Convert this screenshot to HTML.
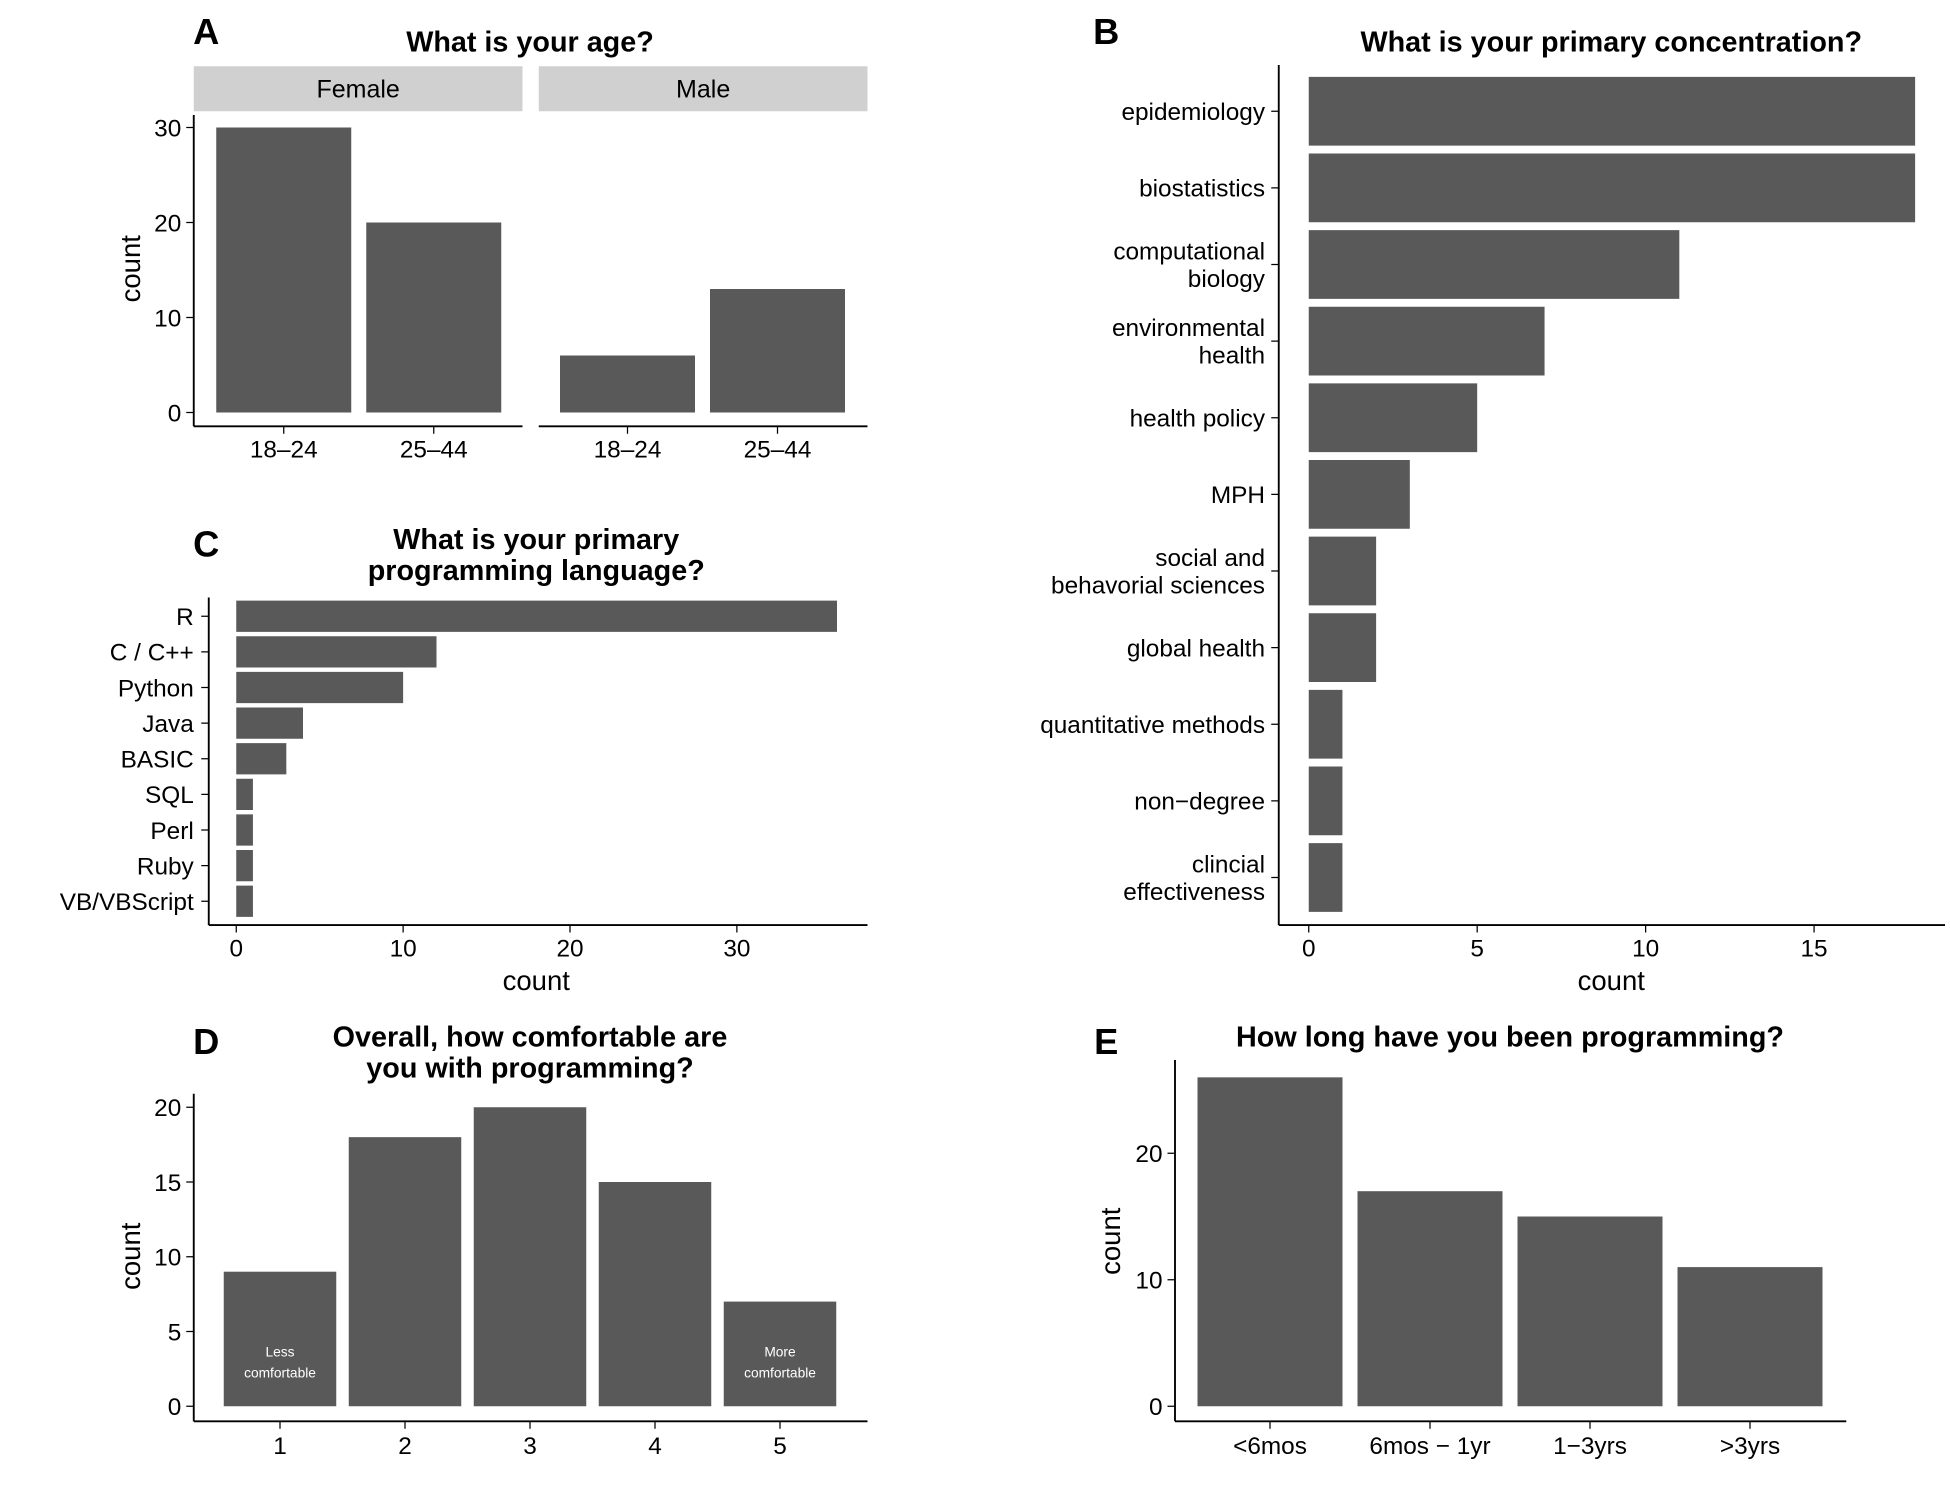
<!DOCTYPE html>
<html><head><meta charset="utf-8"><style>
html,body{margin:0;padding:0;background:#fff}
svg{display:block}
text{font-family:"Liberation Sans",sans-serif;fill:#000}
</style></head><body>
<svg id="fig" width="1950" height="1500" viewBox="0 0 1560 1200">
<g font-weight="bold">
<text x="165" y="35" font-size="29" text-anchor="middle">A</text>
<text x="885" y="35" font-size="29" text-anchor="middle">B</text>
<text x="165" y="445" font-size="29" text-anchor="middle">C</text>
<text x="165" y="843" font-size="29" text-anchor="middle">D</text>
<text x="885" y="843" font-size="29" text-anchor="middle">E</text>
<text x="424" y="41" font-size="23" text-anchor="middle">What is your age?</text>
<text x="1289" y="41" font-size="23" text-anchor="middle">What is your primary concentration?</text>
<text x="429" y="439" font-size="23" text-anchor="middle">What is your primary</text>
<text x="429" y="464" font-size="23" text-anchor="middle">programming language?</text>
<text x="424" y="837" font-size="23" text-anchor="middle">Overall, how comfortable are</text>
<text x="424" y="862" font-size="23" text-anchor="middle">you with programming?</text>
<text x="1208" y="837" font-size="23" text-anchor="middle">How long have you been programming?</text>
</g>
<g id="plots"></g>
</svg>
<script>
const ageCats = ["18\u201324","25\u201344"];
const ageFemale = [30,20];
const ageMale = [6,13];
const ageTicks = [0,10,20,30];

const langCats = ["R","C / C++","Python","Java","BASIC","SQL","Perl","Ruby","VB/VBScript"];
const langVals = [36,12,10,4,3,1,1,1,1];
const langTicks = [0,10,20,30];

const concCats = [["epidemiology"],["biostatistics"],["computational","biology"],["environmental","health"],["health policy"],["MPH"],["social and","behavorial sciences"],["global health"],["quantitative methods"],["non\u2212degree"],["clincial","effectiveness"]];
const concVals = [18,18,11,7,5,3,2,2,1,1,1];
const concTicks = [0,5,10,15];

const comfCats = ["1","2","3","4","5"];
const comfVals = [9,18,20,15,7];
const comfTicks = [0,5,10,15,20];

const longCats = ["<6mos","6mos \u2212 1yr","1\u22123yrs",">3yrs"];
const longVals = [26,17,15,11];
const longTicks = [0,10,20];

const NS="http://www.w3.org/2000/svg";
const root=document.getElementById('plots');
function mk(tag,attrs,parent,txt){const e=document.createElementNS(NS,tag);for(const k in attrs)e.setAttribute(k,attrs[k]);if(txt!==undefined)e.textContent=txt;(parent||root).appendChild(e);return e;}
const BAR="#595959";
const TF=19.5;

// Panel A
const yA=v=>330-v*7.6;
const panelsA=[{x0:155,x1:418,name:"female",lab:"Female",vals:ageFemale,cx:[227,347]},{x0:431,x1:694,name:"male",lab:"Male",vals:ageMale,cx:[502,622]}];
panelsA.forEach(p=>{
  let s=mk('rect',{x:p.x0,y:53,width:p.x1-p.x0,height:36,fill:"#d0d0d0"});
  
  
  let st=mk('text',{x:(p.x0+p.x1)/2,y:78,'font-size':20,'text-anchor':'middle'},null,p.lab);
  
  
  p.vals.forEach((v,i)=>{
    let b=mk('rect',{x:p.cx[i]-54,y:yA(v),width:108,height:yA(0)-yA(v),fill:BAR});
    
    
    mk('line',{x1:p.cx[i],x2:p.cx[i],y1:341,y2:347,stroke:'#000'});
    let t=mk('text',{x:p.cx[i],y:366,'font-size':TF,'text-anchor':'middle'},null,ageCats[i]);
    
    
  });
  let ax=mk('line',{x1:p.x0,x2:p.x1,y1:341,y2:341,stroke:'#000','stroke-width':1.5});
  
  
});
let ayA=mk('line',{x1:155,x2:155,y1:92,y2:341,stroke:'#000','stroke-width':1.5});


ageTicks.forEach(t=>{
  mk('line',{x1:149,x2:155,y1:yA(t),y2:yA(t),stroke:'#000'});
  let e=mk('text',{x:145,y:yA(t)+7,'font-size':TF,'text-anchor':'end'},null,t);
  
  
});
let ytA=mk('text',{x:112,y:215,'font-size':22,'text-anchor':'middle',transform:'rotate(-90 112 215)'},null,'count');



// Panel C
const xC=v=>189+v*13.35;
const yC=i=>493+i*28.5;
langVals.forEach((v,i)=>{
  let b=mk('rect',{x:xC(0),y:yC(i)-12.5,width:xC(v)-xC(0),height:25,fill:BAR});
  
  
  mk('line',{x1:161,x2:167,y1:yC(i),y2:yC(i),stroke:'#000'});
  let t=mk('text',{x:155,y:yC(i)+7,'font-size':TF,'text-anchor':'end'},null,langCats[i]);
  
  
});
let ayC=mk('line',{x1:167,x2:167,y1:478,y2:740,stroke:'#000','stroke-width':1.5});


let axC=mk('line',{x1:167,x2:694,y1:740,y2:740,stroke:'#000','stroke-width':1.5});


langTicks.forEach(t=>{
  mk('line',{x1:xC(t),x2:xC(t),y1:740,y2:746,stroke:'#000'});
  let e=mk('text',{x:xC(t),y:765,'font-size':TF,'text-anchor':'middle'},null,t);
  
  
});
let xtC=mk('text',{x:429,y:792,'font-size':22,'text-anchor':'middle'},null,'count');



// Panel B
const xB=v=>1047+v*26.95;
const yB=i=>89+i*61.3;
concVals.forEach((v,i)=>{
  let b=mk('rect',{x:xB(0),y:yB(i)-27.5,width:xB(v)-xB(0),height:55,fill:BAR});
  
  
  mk('line',{x1:1017,x2:1023,y1:yB(i),y2:yB(i),stroke:'#000'});
  const lines=concCats[i];
  lines.forEach((l,j)=>{
    const off=lines.length===1?7:(j===0?-4:18);
    let t=mk('text',{x:1012,y:yB(i)+off,'font-size':TF,'text-anchor':'end'},null,l);
    
    
  });
});
let ayB=mk('line',{x1:1023,x2:1023,y1:52,y2:740,stroke:'#000','stroke-width':1.5});


let axB=mk('line',{x1:1023,x2:1556,y1:740,y2:740,stroke:'#000','stroke-width':1.5});


concTicks.forEach(t=>{
  mk('line',{x1:xB(t),x2:xB(t),y1:740,y2:746,stroke:'#000'});
  let e=mk('text',{x:xB(t),y:765,'font-size':TF,'text-anchor':'middle'},null,t);
  
  
});
let xtB=mk('text',{x:1289,y:792,'font-size':22,'text-anchor':'middle'},null,'count');



// Panel D
const yD=v=>1125-v*11.96;
const xD=i=>224+i*100;
comfVals.forEach((v,i)=>{
  let b=mk('rect',{x:xD(i)-45,y:yD(v),width:90,height:yD(0)-yD(v),fill:BAR});
  
  
  mk('line',{x1:xD(i),x2:xD(i),y1:1137,y2:1143,stroke:'#000'});
  let t=mk('text',{x:xD(i),y:1163,'font-size':TF,'text-anchor':'middle'},null,comfCats[i]);
  
  
});
[["Less","comfortable",0],["More","comfortable",4]].forEach(a=>{
  let t1=mk('text',{x:xD(a[2]),y:1085,'font-size':11,'text-anchor':'middle',style:'fill:#fff'},null,a[0]);
  
  
  let t2=mk('text',{x:xD(a[2]),y:1102,'font-size':11,'text-anchor':'middle',style:'fill:#fff'},null,a[1]);
  
  
});
let ayD=mk('line',{x1:155,x2:155,y1:875,y2:1137,stroke:'#000','stroke-width':1.5});


let axD=mk('line',{x1:155,x2:694,y1:1137,y2:1137,stroke:'#000','stroke-width':1.5});


comfTicks.forEach(t=>{
  mk('line',{x1:149,x2:155,y1:yD(t),y2:yD(t),stroke:'#000'});
  let e=mk('text',{x:145,y:yD(t)+7,'font-size':TF,'text-anchor':'end'},null,t);
  
  
});
let ytD=mk('text',{x:112,y:1005,'font-size':22,'text-anchor':'middle',transform:'rotate(-90 112 1005)'},null,'count');



// Panel E
const yE=v=>1125-v*10.12;
const xE=i=>1016+i*128;
longVals.forEach((v,i)=>{
  let b=mk('rect',{x:xE(i)-58,y:yE(v),width:116,height:yE(0)-yE(v),fill:BAR});
  
  
  mk('line',{x1:xE(i),x2:xE(i),y1:1137,y2:1143,stroke:'#000'});
  let t=mk('text',{x:xE(i),y:1163,'font-size':TF,'text-anchor':'middle'},null,longCats[i]);
  
  
});
let ayE=mk('line',{x1:940,x2:940,y1:848,y2:1137,stroke:'#000','stroke-width':1.5});


let axE=mk('line',{x1:940,x2:1477,y1:1137,y2:1137,stroke:'#000','stroke-width':1.5});


longTicks.forEach(t=>{
  mk('line',{x1:934,x2:940,y1:yE(t),y2:yE(t),stroke:'#000'});
  let e=mk('text',{x:930,y:yE(t)+7,'font-size':TF,'text-anchor':'end'},null,t);
  
  
});
let ytE=mk('text',{x:896,y:993,'font-size':22,'text-anchor':'middle',transform:'rotate(-90 896 993)'},null,'count');


</script>
</body></html>
